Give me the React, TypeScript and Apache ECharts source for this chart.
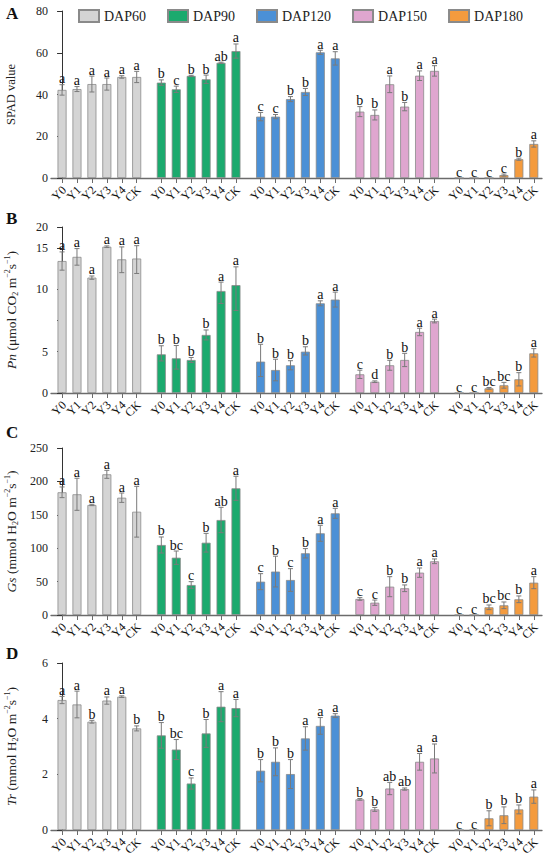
import React, { useEffect, useRef } from 'react';
import * as echarts from 'echarts';

const SERIF = '"Liberation Serif", "Times New Roman", serif';

const stages = ['DAP60', 'DAP90', 'DAP120', 'DAP150', 'DAP180'];
const treatments = ['Y0', 'Y1', 'Y2', 'Y3', 'Y4', 'CK'];
const stageColors = ['#d4d4d4', '#1baa6e', '#4b90d6', '#dfa6cf', '#f49b3e'];

// Panel A: SPAD value (rows = stages, columns = treatments)
const spadMean = [
  [42.2, 42.6, 45.0, 45.0, 48.4, 48.4],
  [45.7, 42.5, 48.9, 47.3, 55.2, 60.8],
  [29.4, 29.4, 37.8, 41.2, 60.2, 57.3],
  [31.8, 30.2, 44.9, 34.2, 49.0, 51.3],
  [0, 0, 0, 1.4, 9.0, 16.3],
];
const spadErr = [
  [2.5, 1.2, 3.8, 2.9, 0.6, 2.7],
  [1.3, 1.5, 0.3, 2.0, 0.3, 3.4],
  [2.0, 1.0, 1.2, 1.7, 1.0, 3.2],
  [2.4, 2.4, 4.0, 2.0, 2.3, 2.5],
  [0, 0, 0, 0.5, 0.5, 1.5],
];
const spadSig = [
  ['a', 'a', 'a', 'a', 'a', 'a'],
  ['b', 'c', 'b', 'b', 'ab', 'a'],
  ['c', 'c', 'b', 'b', 'a', 'a'],
  ['b', 'b', 'a', 'b', 'a', 'a'],
  ['c', 'c', 'c', 'c', 'b', 'a'],
];

// Panel B: Pn
const pnMean = [
  [13.4, 13.9, 11.4, 15.25, 13.6, 13.7],
  [4.66, 4.18, 3.98, 6.33, 9.86, 10.5],
  [3.78, 2.77, 3.34, 4.98, 8.87, 9.17],
  [2.25, 1.36, 3.34, 3.98, 6.57, 7.45],
  [0, 0, 0.56, 0.93, 1.65, 4.78],
];
const pnErr = [
  [1.1, 1.0, 0.2, 0.2, 1.6, 1.8],
  [0.8, 1.3, 0.3, 0.4, 1.0, 2.2],
  [1.8, 1.3, 0.55, 0.4, 0.2, 0.6],
  [0.5, 0.1, 0.6, 0.8, 0.3, 0.15],
  [0, 0, 0.1, 0.35, 0.8, 0.45],
];
const pnSig = [
  ['a', 'a', 'a', 'a', 'a', 'a'],
  ['b', 'b', 'b', 'b', 'a', 'a'],
  ['b', 'b', 'b', 'b', 'a', 'a'],
  ['c', 'd', 'b', 'b', 'a', 'a'],
  ['c', 'c', 'bc', 'bc', 'b', 'a'],
];
// Pn axis: segmented scale, tick values and labels
const pnTickValues = [0, 5, 7.5, 10, 15, 20];
const pnLabelValues = [0, 5, 10, 15, 20];

// Panel C: Gs
const gsMean = [
  [183.7, 180.7, 164.7, 210.6, 175.6, 154.6],
  [104.8, 85.8, 44.9, 108.2, 142.2, 189.7],
  [49.9, 65.0, 52.4, 92.4, 122.3, 152.2],
  [24.0, 18.4, 42.4, 40.0, 63.4, 80.4],
  [0, 0, 11.5, 14.5, 23.5, 48.4],
];
const gsErr = [
  [8, 24, 1, 6, 7, 38],
  [12, 10, 5, 14, 19, 18],
  [12, 23, 17, 7, 12, 7.5],
  [2, 4, 15, 5, 7, 3.5],
  [0, 0, 3.5, 5, 5, 9],
];
const gsSig = [
  ['a', 'a', 'a', 'a', 'a', 'a'],
  ['b', 'bc', 'c', 'b', 'ab', 'a'],
  ['c', 'b', 'c', 'b', 'a', 'a'],
  ['c', 'c', 'b', 'b', 'a', 'a'],
  ['c', 'c', 'bc', 'bc', 'b', 'a'],
];

// Panel D: Tr
const trMean = [
  [4.67, 4.51, 3.89, 4.65, 4.79, 3.65],
  [3.40, 2.89, 1.67, 3.47, 4.43, 4.38],
  [2.13, 2.45, 2.01, 3.29, 3.74, 4.11],
  [1.10, 0.74, 1.49, 1.47, 2.45, 2.57],
  [0, 0, 0.42, 0.53, 0.74, 1.20],
];
const trErr = [
  [0.13, 0.48, 0.05, 0.13, 0.03, 0.09],
  [0.46, 0.36, 0.2, 0.5, 0.54, 0.31],
  [0.4, 0.5, 0.52, 0.42, 0.3, 0.07],
  [0.03, 0.07, 0.22, 0.04, 0.3, 0.52],
  [0, 0, 0.27, 0.3, 0.16, 0.24],
];
const trSig = [
  ['a', 'a', 'b', 'a', 'a', 'b'],
  ['b', 'bc', 'c', 'b', 'a', 'a'],
  ['b', 'b', 'b', 'a', 'a', 'a'],
  ['b', 'b', 'ab', 'ab', 'a', 'a'],
  ['c', 'c', 'b', 'b', 'b', 'a'],
];

// piecewise display mapping used by the Pn axis
const pnDisp = (v: number) => {
  if (v <= 5) return v * 0.4;
  if (v <= 10) return 2 + (v - 5) * 0.6;
  if (v <= 15) return 5 + (v - 10) * 0.4;
  return 7 + (v - 15) * 0.2;
};
const identity = (v: number) => v;

const GROUP_STEP = 6.65;
const xPos = (g: number, i: number) => g * GROUP_STEP + i;
const allPos: number[] = [];
stages.forEach((_, g) => treatments.forEach((_t, i) => { allPos.push(xPos(g, i)); }));

export default function App() {
  const ref = useRef<HTMLDivElement>(null);
  useEffect(() => {
    if (!ref.current) return;
    const chart = echarts.init(ref.current, undefined, { renderer: 'svg' });

    const panels = [
      { mean: spadMean, err: spadErr, sig: spadSig, map: identity, top: 11, height: 167, letter: 'A', letterY: 14,
        y: { min: 0, max: 80, interval: 20 }, name: 'SPAD value', nameSize: 12.5 },
      { mean: pnMean, err: pnErr, sig: pnSig, map: pnDisp, top: 227, height: 166, letter: 'B', letterY: 219,
        y: { min: 0, max: 8 }, name: '{i|Pn} (μmol CO{sub|2} m{sup|−2}s{sup|−1})', nameSize: 13.5 },
      { mean: gsMean, err: gsErr, sig: gsSig, map: identity, top: 448, height: 167, letter: 'C', letterY: 433,
        y: { min: 0, max: 250, interval: 50 }, name: '{i|Gs} (mmol H{sub|2}O m{sup|−2}s{sup|−1})', nameSize: 13.5 },
      { mean: trMean, err: trErr, sig: trSig, map: identity, top: 663, height: 167, letter: 'D', letterY: 654,
        y: { min: 0, max: 6, interval: 2 }, name: '{i|Tr} (mmol H{sub|2}O m{sup|−2}s{sup|−1})', nameSize: 13.5 },
    ];

    const grids: any[] = [];
    const xAxes: any[] = [];
    const yAxes: any[] = [];
    const series: any[] = [];
    const graphics: any[] = [];

    panels.forEach((p, pi) => {
      grids.push({ left: 51, right: 8, top: p.top, height: p.height, containLabel: false, outerBoundsMode: 'none' });
      xAxes.push({
        type: 'value', gridIndex: pi, min: -0.74, max: 32.15,
        splitLine: { show: false },
        axisLine: { show: true, onZero: false, lineStyle: { color: '#6b6b6b', width: 1.3 } },
        axisTick: { show: true, customValues: allPos, length: 5, lineStyle: { color: '#6b6b6b', width: 1 } },
        axisLabel: { show: false },
      });
      const isPn = p.map === pnDisp;
      const yAxis: any = {
        type: 'value', gridIndex: pi, min: p.y.min, max: p.y.max,
        splitLine: { show: false },
        axisLine: { show: true, lineStyle: { color: '#333', width: 1 } },
        axisTick: { show: true, length: 5, lineStyle: { color: '#333' } },
        axisLabel: { fontSize: 12, fontFamily: SERIF, color: '#222', margin: 3, showMinLabel: true, showMaxLabel: true },
        name: p.name, nameLocation: 'middle', nameRotate: 90, nameGap: 32,
        nameTextStyle: {
          fontFamily: SERIF, fontSize: p.nameSize, color: '#222', lineHeight: 16,
          rich: {
            i: { fontFamily: SERIF, fontSize: p.nameSize, fontStyle: 'italic', color: '#222', lineHeight: 16 },
            sub: { fontFamily: SERIF, fontSize: 8, color: '#222', verticalAlign: 'bottom', lineHeight: 16 },
            sup: { fontFamily: SERIF, fontSize: 8, color: '#222', verticalAlign: 'top', lineHeight: 16 },
          },
        },
      };
      if (isPn) {
        yAxis.axisTick.customValues = pnTickValues.map(pnDisp);
        yAxis.axisLabel.customValues = pnLabelValues.map(pnDisp);
        yAxis.axisLabel.formatter = (v: number) => {
          let best = pnLabelValues[0];
          let bd = Infinity;
          pnLabelValues.forEach((lv) => { const d = Math.abs(pnDisp(lv) - v); if (d < bd) { bd = d; best = lv; } });
          return String(best);
        };
      } else {
        yAxis.interval = p.y.interval;
      }
      yAxes.push(yAxis);

      const errData: any[] = [];
      const letters: string[] = [];
      const tickNames: string[] = [];
      stages.forEach((s, g) => {
        series.push({
          type: 'bar', name: s, xAxisIndex: pi, yAxisIndex: pi,
          barWidth: 9, barGap: '-100%',
          itemStyle: { color: stageColors[g], borderColor: '#8a8a8a', borderWidth: 0.8 },
          data: treatments.map((_, i) => [xPos(g, i), p.map(p.mean[g][i])]),
          z: 2,
        });
        treatments.forEach((t, i) => {
          const m = p.mean[g][i];
          const e = p.err[g][i];
          errData.push([xPos(g, i), p.map(m + e), p.map(Math.max(0, m - e)), e]);
          letters.push(p.sig[g][i]);
          tickNames.push(t);
        });
      });
      series.push({
        type: 'custom', xAxisIndex: pi, yAxisIndex: pi, z: 5, silent: true, clip: false,
        itemStyle: { color: '#111' },
        data: errData,
        renderItem: (params: any, api: any) => {
          const x = api.value(0);
          const hi = api.value(1);
          const lo = api.value(2);
          const e = api.value(3);
          const pt = api.coord([x, hi]);
          const pb = api.coord([x, lo]);
          const p0 = api.coord([x, 0]);
          const children: any[] = [];
          const ls = { stroke: '#7a7a7a', lineWidth: 1 };
          if (e > 0) {
            children.push({ type: 'line', shape: { x1: pt[0], y1: pt[1], x2: pb[0], y2: pb[1] }, style: ls });
            children.push({ type: 'line', shape: { x1: pt[0] - 2.5, y1: pt[1], x2: pt[0] + 2.5, y2: pt[1] }, style: ls });
            children.push({ type: 'line', shape: { x1: pb[0] - 2.5, y1: pb[1], x2: pb[0] + 2.5, y2: pb[1] }, style: ls });
          }
          children.push({
            type: 'text', x: pt[0], y: pt[1] + 1,
            style: {
              text: letters[params.dataIndex], align: 'center', verticalAlign: 'bottom',
              fontSize: 14, fontFamily: SERIF, fill: '#111',
            },
          });
          children.push({
            type: 'text', x: p0[0] + 2, y: p0[1] + 10, rotation: Math.PI / 4,
            style: {
              text: tickNames[params.dataIndex], align: 'right', verticalAlign: 'middle',
              fontSize: 12, fontFamily: SERIF, fill: '#111',
            },
          });
          return { type: 'group', children };
        },
      });

      graphics.push({
        type: 'text', left: 6, top: p.letterY - 9,
        style: { text: p.letter, fontSize: 17, fontWeight: 'bold', fontFamily: SERIF, fill: '#111' },
      });
    });

    chart.setOption({
      animation: false,
      backgroundColor: '#ffffff',
      legend: {
        data: stages, top: 4, left: 73, itemWidth: 20, itemHeight: 12, itemGap: 21, icon: 'rect',
        textStyle: { fontSize: 14, fontFamily: SERIF, color: '#222' },
        selectedMode: false,
      },
      grid: grids,
      xAxis: xAxes,
      yAxis: yAxes,
      series,
      graphic: graphics,
    });
    return () => chart.dispose();
  }, []);
  return <div ref={ref} style={{ position: 'absolute', left: 0, top: 0, width: 550, height: 862, background: '#fff' }} />;
}
